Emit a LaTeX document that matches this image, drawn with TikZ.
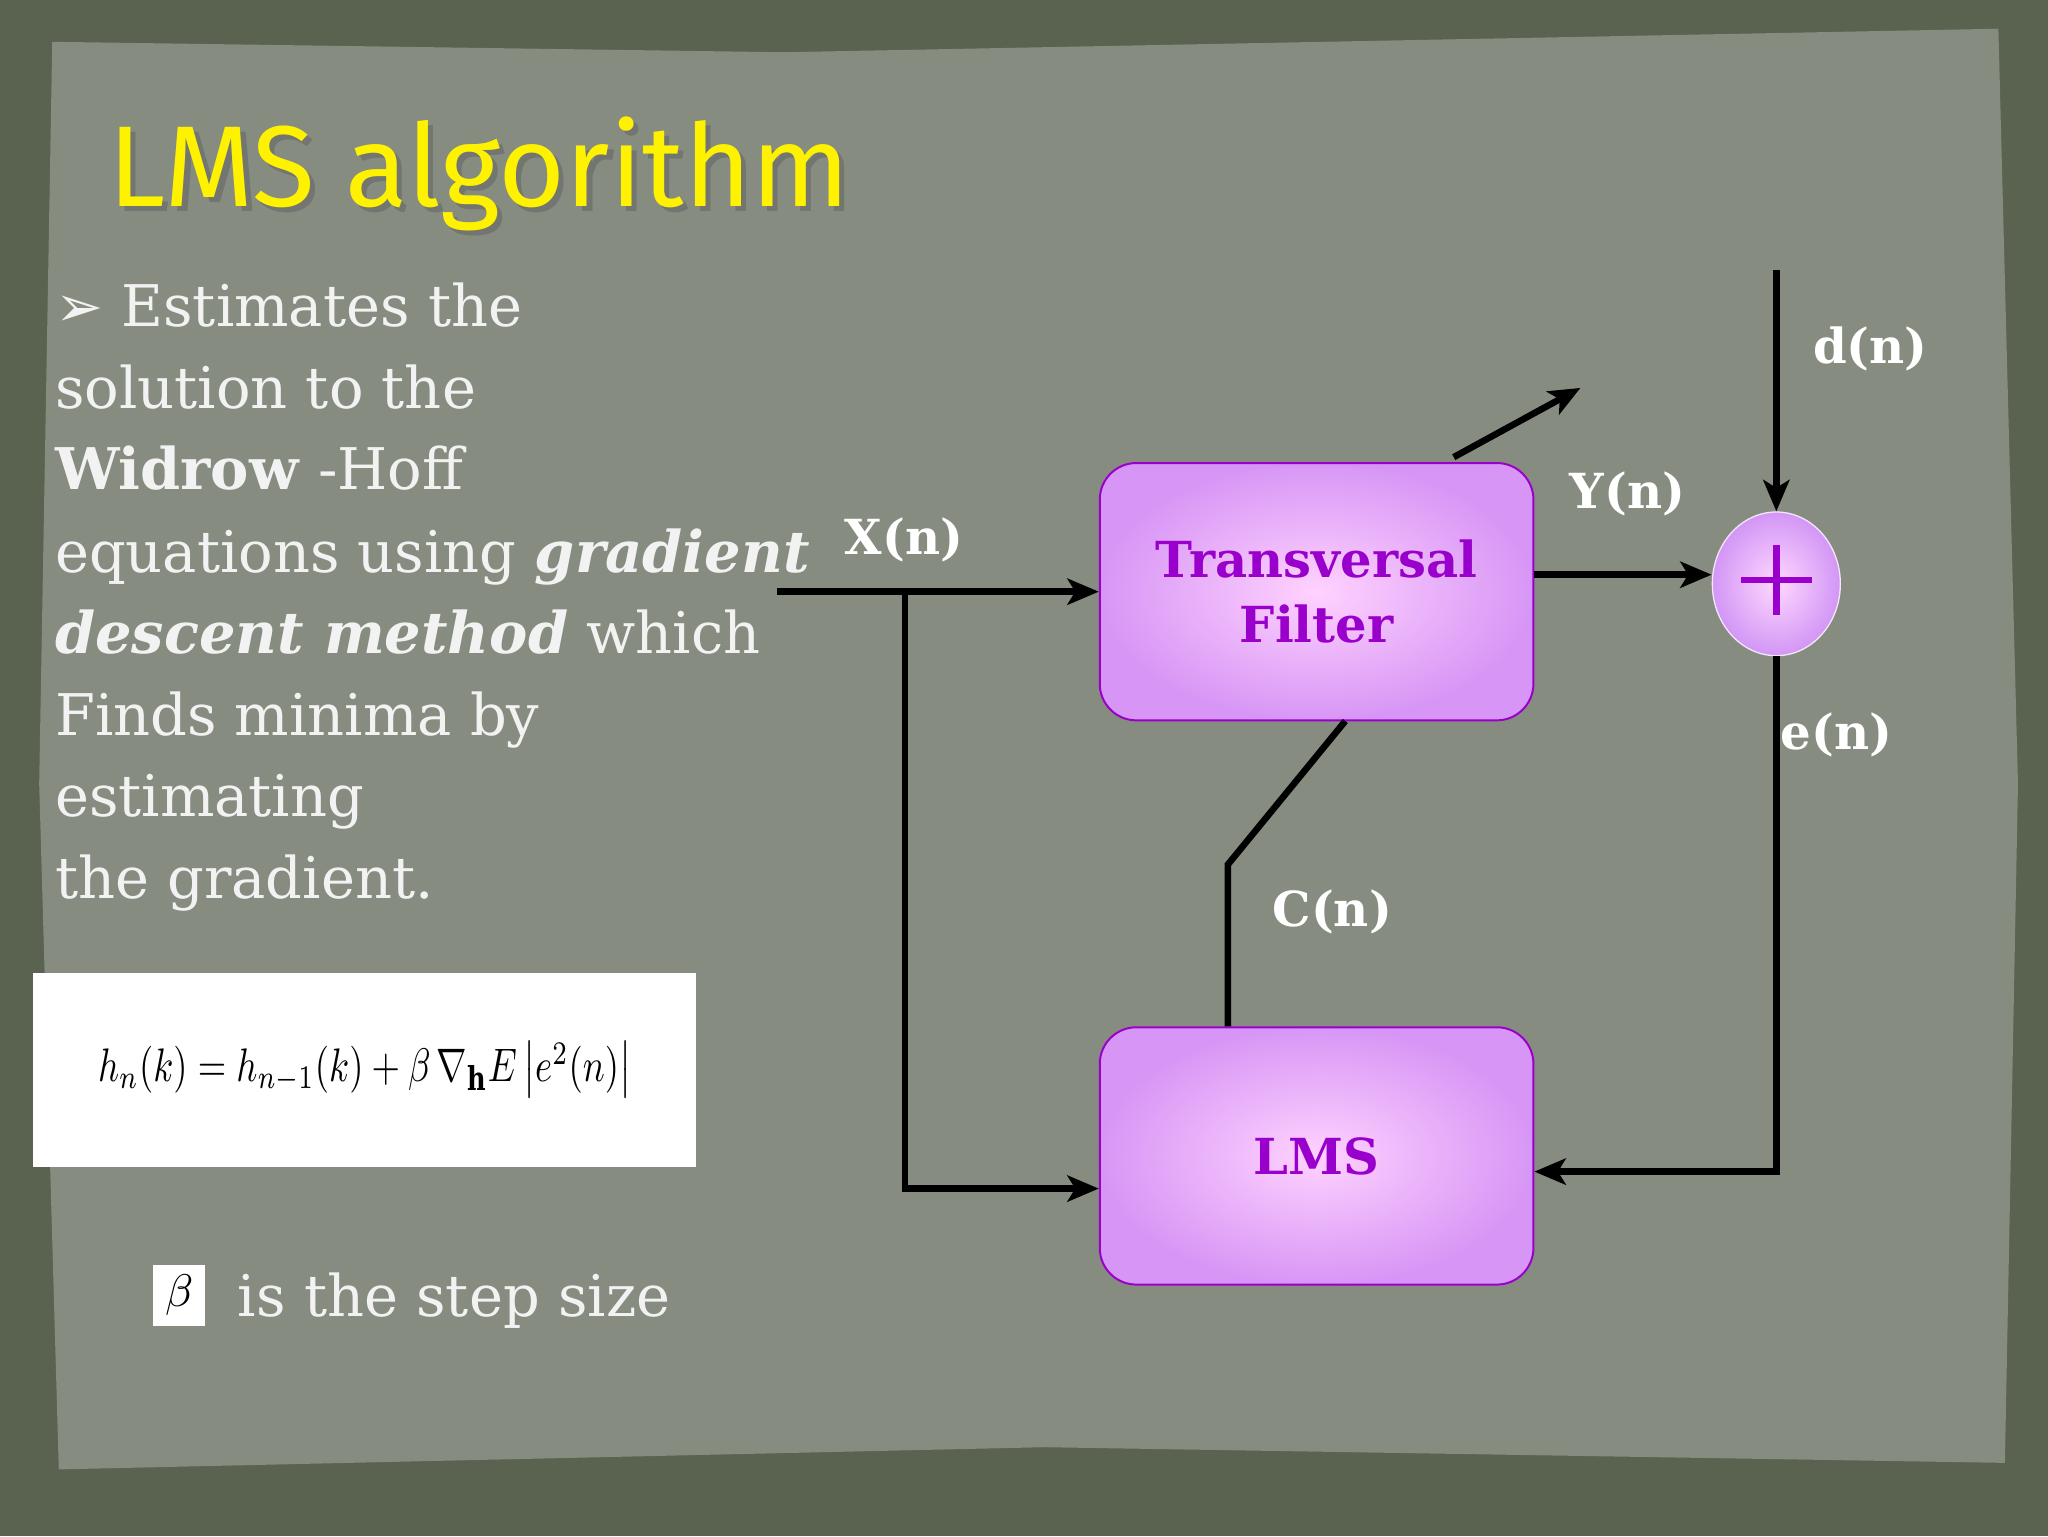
\documentclass[tikz,border=0pt]{standalone}
\usepackage{fontspec}
\setmainfont{DejaVu Serif}
\newfontfamily\titlefont{Fira Sans}
\newfontfamily\symfont{DejaVu Sans}
\usetikzlibrary{shapes.geometric,arrows.meta}
\definecolor{paper}{HTML}{868C80}
\definecolor{edge}{HTML}{59634F}
\definecolor{purp}{HTML}{9900CC}
\definecolor{txt}{HTML}{F2F2F2}
\begin{document}
\begin{tikzpicture}[x=1pt,y=-1pt,
  line/.style={line width=5pt,black},
  arr/.style={-{Stealth[length=24pt,width=20pt,inset=6pt]}},
  blk/.style={draw=purp,line width=1.5pt,rounded corners=28pt,minimum width=332pt,minimum height=197pt,inner color={rgb,255:red,255;green,210;blue,255},outer color={rgb,255:red,215;green,150;blue,245},text=purp,font=\bfseries\fontsize{38}{50}\selectfont,align=center},
  lab/.style={text=white,font=\bfseries\fontsize{37}{44}\selectfont},
  body/.style={text=txt,anchor=base west,inner sep=0,font=\fontsize{44}{56}\selectfont}]
\useasboundingbox (0,0) rectangle (1568,1176);
\fill[edge] (0,0) rectangle (1568,1176);
\fill[paper] (40,32) -- (600,40) -- (1530,22) -- (1545,600) -- (1535,1120) -- (800,1108) -- (45,1125) -- (30,600) -- cycle;
% title
\node[anchor=base west,inner sep=0,text=black!60,opacity=0.6,font=\titlefont\fontsize{88}{90}\selectfont] (titlesh) at (87,162) {LMS algorithm};
\node[anchor=base west,inner sep=0,text=yellow,font=\titlefont\fontsize{88}{90}\selectfont] (title) at (83,158) {LMS algorithm};
% body
\node[body] (l1) at (42,250) {{\symfont\fontsize{44}{40}\selectfont ➢} Estimates the};
\node[body] (l2) at (42,313) {solution to the};
\node[body] (l3) at (42,375) {\textbf{Widrow} -Hoff};
\node[body] (l4) at (42,438) {equations using \textbf{\textit{gradient}}};
\node[body] (l5) at (42,500) {\textbf{\textit{descent method}} which};
\node[body] (l6) at (42,563) {Finds minima by};
\node[body] (l7) at (42,625) {estimating};
\node[body] (l8) at (42,688) {the gradient.};
% formula
\node[fill=white,minimum width=508pt,minimum height=148pt,anchor=north west,inner sep=0] (form) at (25,745) {\scalebox{2.8}[3.6]{$h_n(k)=h_{n-1}(k)+\beta\,\nabla_{\mathbf h}E\left|e^2(n)\right|$}};
\node[fill=white,minimum width=40pt,minimum height=47pt,anchor=north west,inner sep=0] (beta) at (117,968) {\scalebox{3.5}{$\beta$}};
\node[body] (step) at (182,1008) {is the step size};
% diagram
\node[blk] (tf) at (1008,453) {Transversal\\Filter};
\node[blk] (lms) at (1008,885) {LMS};
\node[ellipse,draw=white!90!purp,line width=1pt,minimum width=98pt,minimum height=110pt,inner color={rgb,255:red,255;green,215;blue,255},outer color={rgb,255:red,210;green,150;blue,245},inner sep=0] (sum) at (1360,447) {};
\draw[purp,line width=5pt] (1333,444) -- (1387,444) (1360,417) -- (1360,471);
\coordinate (xin) at (595,453);
\coordinate (xb) at (693,453);
\coordinate (xd) at (693,910);
\draw[line,arr] (xin) -- (tf.west);
\draw[line,arr] (xb) -- (xd) -- (lms.west |- xd);
\draw[line,arr] (tf.east |- 0,440) -- (sum.west |- 0,440);
\coordinate (din) at (1360,207);
\draw[line,arr] (din) -- (sum.north);
\coordinate (ed) at (1360,897);
\draw[line,arr] (sum.south) -- (ed) -- (lms.east |- ed);
\coordinate (cb) at (940,662);
\coordinate (ct) at (1030,552);
\draw[line] (lms.north -| cb) -- (cb) -- (ct);
\coordinate (a1) at (1113,350);
\coordinate (a2) at (1210,297);
\draw[line,arr] (a1) -- (a2);
\node[lab] (xl) at (692,413) {X(n)};
\node[lab] (yl) at (1246,378) {Y(n)};
\node[lab] (dl) at (1432,267) {d(n)};
\node[lab] (el) at (1406,563) {e(n)};
\node[lab] (cl) at (1020,698) {C(n)};
\end{tikzpicture}
\end{document}
